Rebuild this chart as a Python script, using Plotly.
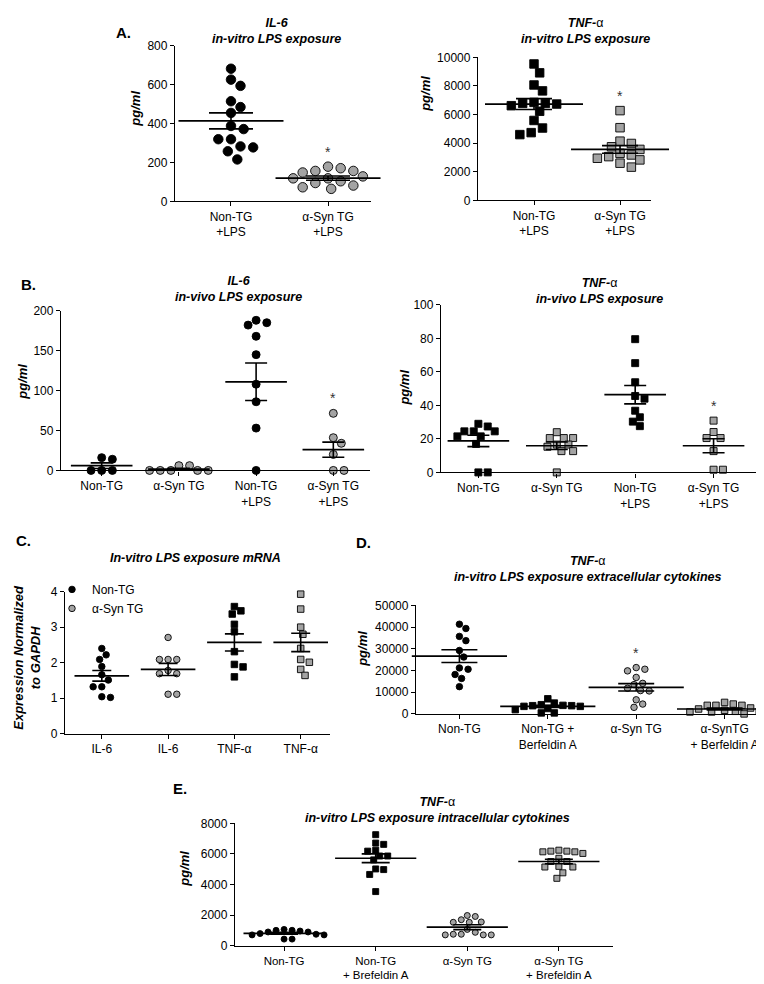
import plotly.graph_objects as go

# ------------------------------------------------------------------ data
# Panel A (in-vitro LPS exposure)
a_labels = ["Non-TG<br>+LPS", "α-Syn TG<br>+LPS"]
a_il6_nontg = [681, 625, 593, 514, 484, 454, 387, 371, 319, 319, 282, 277, 257, 215]
a_il6_syn = [178, 156, 148, 156, 170, 118, 103, 128, 118, 118, 81, 64, 72, 94]
a_il6_mean = [413, 119]
a_il6_sem = [41, 11]
a_tnf_nontg = [9540, 8920, 8070, 7656, 6851, 6782, 6736, 6782, 6621, 6230, 5587, 5058, 4736, 4598]
a_tnf_syn = [6276, 5081, 3977, 4138, 3747, 3563, 3288, 3173, 3058, 2943, 2828, 2598, 2322]
a_tnf_mean = [6736, 3563]
a_tnf_sem = [380, 265]

# Panel B (in-vivo LPS exposure)
b_labels = ["Non-TG", "α-Syn TG", "Non-TG<br>+LPS", "α-Syn TG<br>+LPS"]
b_il6_nontg = [16, 14, 0, 0, 0]
b_il6_syn = [6, 0, 0, 0, 0, 0, 6]
b_il6_nontg_lps = [188, 182, 185, 168, 145, 108, 86, 53, 0]
b_il6_syn_lps = [71.5, 34, 41, 20, 0, 0]
b_il6_mean = [6, 1.7, 111, 26]
b_il6_sem = [3.5, 1.1, 23.5, 9.5]
b_tnf_nontg = [29, 24.5, 24.5, 24.5, 27.4, 21.5, 21.5, 17, 0, 0]
b_tnf_syn = [16.6, 20.5, 20.5, 20.5, 24, 16.6, 15.3, 12.7, 12.7, 0]
b_tnf_nontg_lps = [79.5, 65.2, 53.8, 45.6, 44, 36.8, 32.9, 30.3, 27.6]
b_tnf_syn_lps = [30.9, 24.1, 20.5, 20.5, 12.7, 1.6, 1.6]
b_tnf_mean = [18.8, 15.9, 46.4, 15.9]
b_tnf_sem = [3.4, 2.2, 5.5, 4.2]

# Panel C (mRNA)
c_labels = ["IL-6", "IL-6", "TNF-α", "TNF-α"]
c_il6_nontg = [2.40, 2.22, 2.09, 1.89, 1.66, 1.51, 1.32, 1.32, 1.02, 1.04]
c_il6_syn = [2.71, 2.09, 2.09, 2.09, 1.69, 1.69, 1.78, 1.11, 1.11]
c_tnf_nontg = [3.58, 3.46, 3.37, 3.08, 2.87, 2.31, 1.88, 1.95, 1.60]
c_tnf_syn = [3.93, 3.51, 3.00, 2.80, 2.40, 2.09, 2.01, 1.81, 1.64]
c_mean = [1.63, 1.81, 2.57, 2.57]
c_sem = [0.15, 0.17, 0.24, 0.26]

# Panel D (extracellular)
d_labels = ["Non-TG", "Non-TG +<br>Berfeldin A", "α-Syn TG", "α-SynTG<br>+ Berfeldin A"]
d_nontg = [41360, 39390, 35750, 33790, 29240, 26210, 20600, 21210, 18180, 16360, 12570]
d_nontg_bfa = [3940, 3480, 5000, 4240, 6970, 3480, 3790, 3790, 1970, 455, 455, 2500]
d_syn = [20600, 19850, 21360, 16820, 13500, 14090, 10760, 10600, 11820, 6510, 4545, 3030]
d_syn_bfa = [2270, 3940, 3940, 3940, 4545, 5300, 900, 900, 1210, 1210, 900, 1670, 2730, 0]
d_mean = [26660, 3480, 12270, 2270]
d_sem = [2950, 550, 1700, 400]

# Panel E (intracellular)
e_labels = ["Non-TG", "Non-TG<br>+ Brefeldin A", "α-Syn TG", "α-Syn TG<br>+ Brefeldin A"]
e_nontg = [889, 1058, 995, 952, 889, 698, 740, 783, 698, 423, 423, 1000]
e_nontg_bfa = [7258, 6708, 6623, 6179, 6242, 5861, 5861, 5607, 4973, 5015, 4655, 3534]
e_syn = [1968, 1693, 1524, 1524, 1545, 1904, 1058, 741, 698, 698, 698, 741, 868]
e_syn_bfa = [6179, 6136, 6031, 6136, 6179, 6242, 5502, 5502, 5713, 5142, 5142, 5184, 4761, 4401]
e_mean = [804, 5713, 1206, 5502]
e_sem = [60, 285, 160, 150]

# ------------------------------------------------------------------ style / layout
W, H = 764, 984
FONT = "Liberation Sans, Arial, Helvetica, sans-serif"
BLACK = "black"
GRAY = "#a3a3a3"

panels = [
    dict(box=(167, 363, 31, 189), xr=(-0.577, 1.443), yr=(0, 800), dtick=200,
         labels=a_labels, xfont=12,
         groups=[(a_il6_nontg, "circle", BLACK), (a_il6_syn, "circle", GRAY)],
         mean=a_il6_mean, sem=a_il6_sem, msize=9.5, mw=75, cap=22, star=[1],
         title="<b><i>IL-6</i></b><br><b><i>in-vitro LPS exposure</i></b>", tpos=(268, 16),
         ytitle=("<b><i>pg/ml</i></b>", 128, 95)),
    dict(box=(470, 643, 43, 188), xr=(-0.651, 1.360), yr=(0, 10000), dtick=2000,
         labels=a_labels, xfont=12,
         groups=[(a_tnf_nontg, "square", BLACK), (a_tnf_syn, "square", GRAY)],
         mean=a_tnf_mean, sem=a_tnf_sem, msize=8.5, mw=70, cap=18, star=[1],
         title="<b><i>TNF-</i></b>α<br><b><i>in-vitro LPS exposure</i></b>", tpos=(577, 16),
         ytitle=("<b><i>pg/ml</i></b>", 418, 80)),
    dict(box=(53, 362, 300, 462), xr=(-0.527, 3.475), yr=(0, 200), dtick=50,
         labels=b_labels, xfont=12,
         groups=[(b_il6_nontg, "circle", BLACK), (b_il6_syn, "circle", GRAY),
                 (b_il6_nontg_lps, "circle", BLACK), (b_il6_syn_lps, "circle", GRAY)],
         mean=b_il6_mean, sem=b_il6_sem, msize=8, mw=44, cap=11, star=[3],
         title="<b><i>IL-6</i></b><br><b><i>in-vivo LPS exposure</i></b>", tpos=(230, 278),
         ytitle=("<b><i>pg/ml</i></b>", 15, 372)),
    dict(box=(433, 757, 294, 464), xr=(-0.477, 3.656), yr=(0, 100), dtick=20,
         labels=b_labels, xfont=12,
         groups=[(b_tnf_nontg, "square", BLACK), (b_tnf_syn, "square", GRAY),
                 (b_tnf_nontg_lps, "square", BLACK), (b_tnf_syn_lps, "square", GRAY)],
         mean=b_tnf_mean, sem=b_tnf_sem, msize=7, mw=44, cap=11, star=[3],
         title="<b><i>TNF-</i></b>α<br><b><i>in-vivo LPS exposure</i></b>", tpos=(591, 280),
         ytitle=("<b><i>pg/ml</i></b>", 397, 378)),
    dict(box=(57, 322, 585, 729), xr=(-0.555, 3.442), yr=(0, 4), dtick=1,
         labels=c_labels, xfont=12,
         groups=[(c_il6_nontg, "circle", BLACK), (c_il6_syn, "circle", GRAY),
                 (c_tnf_nontg, "square", BLACK), (c_tnf_syn, "square", GRAY)],
         mean=c_mean, sem=c_sem, msize=6.5, mw=39, cap=9.5, star=[],
         legend=["Non-TG", "α-Syn TG"],
         title="<b><i>In-vitro LPS exposure mRNA</i></b>", tpos=(187, 551),
         ytitle=("<b><i>Expression Normalized</i></b><br><b><i>to GAPDH</i></b>", 19, 652)),
    dict(box=(408, 763, 599, 709), xr=(-0.491, 3.525), yr=(0, 50000), dtick=10000,
         labels=d_labels, xfont=12,
         groups=[(d_nontg, "circle", BLACK), (d_nontg_bfa, "square", BLACK),
                 (d_syn, "circle", GRAY), (d_syn_bfa, "square", GRAY)],
         mean=d_mean, sem=d_sem, msize=6.5, mw=68, cap=18, star=[2],
         title="<b><i>TNF-</i></b>α<br><b><i>in-vitro LPS exposure extracellular cytokines</i></b>",
         tpos=(580, 562), ytitle=("<b><i>pg/ml</i></b>", 355, 643)),
    dict(box=(227, 605, 820, 944), xr=(-0.536, 3.591), yr=(0, 8000), dtick=2000,
         labels=e_labels, xfont=11.5,
         groups=[(e_nontg, "circle", BLACK), (e_nontg_bfa, "square", BLACK),
                 (e_syn, "circle", GRAY), (e_syn_bfa, "square", GRAY)],
         mean=e_mean, sem=e_sem, msize=6, mw=58, cap=14, star=[],
         title="<b><i>TNF-</i></b>α<br><b><i>in-vitro LPS exposure intracellular cytokines</i></b>",
         tpos=(430, 806), ytitle=("<b><i>pg/ml</i></b>", 177, 866)),
]

letters = [("A.", 115, 18), ("B.", 20, 273), ("C.", 15, 533), ("D.", 355, 535), ("E.", 172, 785)]


def swarm(vals, ppx, ppy, d):
    """Beeswarm offsets (in x data units) so markers of diameter d px don't overlap."""
    order = sorted(range(len(vals)), key=lambda i: -vals[i])
    placed = []
    offs = [0.0] * len(vals)
    step = d / 3.0
    sep = d * 1.15
    for i in order:
        y = vals[i] * ppy
        k = 0
        chosen = None
        while chosen is None:
            cands = [0.0] if k == 0 else [k * step, -k * step]
            for c in cands:
                if all((c - px) ** 2 + (y - py) ** 2 >= sep ** 2 for px, py in placed):
                    chosen = c
                    break
            k += 1
        placed.append((chosen, y))
        offs[i] = chosen / ppx
    return offs


fig = go.Figure()
layout = dict(width=W, height=H, margin=dict(l=0, r=0, t=0, b=0),
              paper_bgcolor="white", plot_bgcolor="white",
              font=dict(family=FONT, size=12, color="black"),
              showlegend=True, annotations=[])

for n, p in enumerate(panels, start=1):
    xs = "" if n == 1 else str(n)
    xref, yref = "x" + xs, "y" + xs
    x0, x1, yt, yb = p["box"]
    ppx = (x1 - x0) / (p["xr"][1] - p["xr"][0])
    ppy = (yb - yt) / (p["yr"][1] - p["yr"][0])
    ncat = len(p["labels"])

    layout["xaxis" + xs] = dict(
        domain=[x0 / W, x1 / W], range=list(p["xr"]), anchor=yref,
        tickmode="array", tickvals=list(range(ncat)), ticktext=p["labels"],
        showline=True, linecolor="black", linewidth=1.3, ticks="outside", ticklen=4,
        tickwidth=1.2, tickcolor="black", showgrid=False, zeroline=False,
        tickfont=dict(size=p["xfont"], color="black", family=FONT), fixedrange=True)
    top = p["yr"][1]
    layout["yaxis" + xs] = dict(
        domain=[1 - yb / H, 1 - yt / H], range=list(p["yr"]), anchor=xref,
        tickmode="array", tickvals=list(range(0, int(top) + 1, int(p["dtick"]))),
        tickformat="d",
        showline=True, linecolor="black", linewidth=1.3, ticks="outside", ticklen=4,
        tickwidth=1.2, tickcolor="black", showgrid=False, zeroline=False,
        tickfont=dict(size=12, color="black", family=FONT), fixedrange=True)

    for gi, (vals, sym, col) in enumerate(p["groups"]):
        offs = swarm(vals, ppx, ppy, p["msize"])
        leg = p.get("legend")
        show = bool(leg) and gi < 2
        fig.add_trace(go.Scatter(
            x=[gi + o for o in offs], y=vals, mode="markers", xaxis=xref, yaxis=yref,
            cliponaxis=False, showlegend=show, name=(leg[gi] if show else ""),
            marker=dict(symbol=sym, size=p["msize"], color=col,
                        line=dict(color="black", width=0.9)),
            hoverinfo="skip"))

    # mean line with SEM error bars
    fig.add_trace(go.Scatter(
        x=list(range(ncat)), y=p["mean"], mode="markers", xaxis=xref, yaxis=yref,
        cliponaxis=False, showlegend=False,
        marker=dict(symbol="line-ew", size=p["mw"], color="black",
                    line=dict(color="black", width=1.7)),
        error_y=dict(type="data", array=p["sem"], symmetric=True, color="black",
                     thickness=1.6, width=p["cap"]),
        hoverinfo="skip"))

    for si in p["star"]:
        layout["annotations"].append(dict(
            text="*", x=si, y=max(p["groups"][si][0]), xref=xref, yref=yref,
            yshift=15, showarrow=False, font=dict(size=14, color="#333333", family=FONT)))

    layout["annotations"].append(dict(
        text=p["title"], x=p["tpos"][0] / W, y=1 - p["tpos"][1] / H, xref="paper", yref="paper",
        xanchor="center", yanchor="middle", showarrow=False,
        font=dict(size=12.5, color="black", family=FONT)))
    yt_text, ytx, yty = p["ytitle"]
    layout["annotations"].append(dict(
        text=yt_text, x=ytx / W, y=1 - yty / H, xref="paper", yref="paper",
        xanchor="center", yanchor="middle", textangle=-90, showarrow=False,
        font=dict(size=13, color="black", family=FONT)))

for t, lx, ly in letters:
    layout["annotations"].append(dict(
        text="<b>" + t + "</b>", x=lx / W, y=1 - ly / H, xref="paper", yref="paper",
        xanchor="center", yanchor="middle", showarrow=False,
        font=dict(size=15, color="black", family=FONT)))

layout["legend"] = dict(x=44 / W, y=1 - 568 / H, xanchor="left", yanchor="top",
                        bgcolor="rgba(0,0,0,0)", font=dict(size=12, family=FONT),
                        tracegroupgap=0, itemwidth=30)

fig.update_layout(**layout)
fig.write_html("out.html")
